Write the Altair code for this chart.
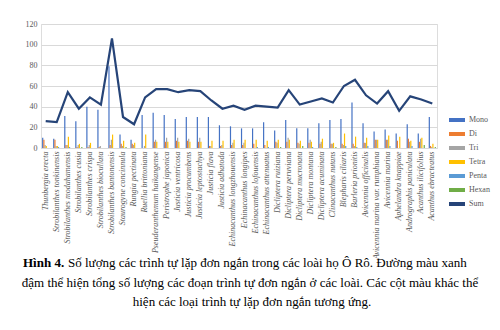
import altair as alt
import pandas as pd

species = [
    "Thunbergia erecta", "Strobilanthes tonkinensis", "Strobilanthes modahamensis",
    "Strobilanthes cusia", "Strobilanthes crispa", "Strobilanthes biocullata",
    "Strobilanthes bantonensis", "Staurogyne concinnula", "Rungia pectinata",
    "Ruellia brittoniana", "Pseuderanthemum haikangense", "Peristrophe japonica",
    "Justicia ventricosa", "Justicia procumbens", "Justicia leptostachya",
    "Justicia flava", "Justicia adhatoda", "Echinacanthus longzhouensis",
    "Echinacanthus longipes", "Echinacanthus lofouensis", "Echinacanthus attenuatus",
    "Dicliptera ruiziana", "Dicliptera peruviana", "Dicliptera mucronata",
    "Dicliptera montana", "Dicliptera acuminata", "Clinacanthus nutans",
    "Blepharis ciliaris", "Barleria prionitis", "Avicennia officinalis",
    "Avicennia marina var. rumphiana", "Avicennia marina", "Aphelandra knappiae",
    "Andrographis paniculata", "Acanthus ilicifolius", "Acanthus ebracteatus",
]
mono = [10, 9, 31, 26, 40, 37, 79, 13, 8, 32, 34, 32, 28, 30, 30, 30, 22, 21, 19, 19,
        25, 17, 27, 19, 19, 24, 27, 28, 44, 24, 16, 18, 14, 23, 14, 30]
di = [8, 8, 3, 1, 1, 1, 3, 4, 4, 0, 6, 6, 7, 7, 6, 2, 2, 3, 3, 4,
      3, 6, 6, 5, 5, 4, 4, 4, 4, 5, 8, 8, 7, 9, 6, 2]
tri = [3, 2, 3, 3, 3, 2, 8, 2, 3, 2, 8, 10, 10, 9, 10, 2, 3, 5, 5, 0,
       0, 5, 10, 4, 8, 6, 4, 3, 2, 5, 8, 8, 0, 6, 9, 1]
tetra = [2, 2, 11, 4, 5, 0, 13, 7, 5, 13, 6, 6, 6, 6, 6, 7, 7, 8, 8, 8,
         7, 8, 8, 7, 6, 9, 5, 14, 11, 10, 8, 12, 11, 7, 10, 4]
penta = [0, 1, 1, 0, 0, 0, 0, 0, 0, 0, 0, 0, 0, 0, 0, 0, 0, 0, 0, 1,
         1, 0, 0, 0, 1, 0, 0, 2, 1, 2, 0, 2, 0, 2, 0, 0]
hexan = [0, 0, 0, 1, 0, 0, 0, 1, 0, 0, 0, 0, 0, 0, 0, 0, 0, 0, 0, 0,
         0, 1, 0, 2, 0, 0, 1, 0, 0, 0, 0, 0, 0, 0, 3, 1]
total = [26, 25, 54, 38, 49, 42, 106, 30, 23, 49, 57, 57, 54, 56, 55, 46, 38, 41, 37, 41,
         40, 39, 56, 42, 45, 48, 44, 60, 66, 51, 43, 55, 36, 50, 47, 43]

series_names = ["Mono", "Di", "Tri", "Tetra", "Penta", "Hexan", "Sum"]
series_colors = ["#4472C4", "#ED7D31", "#A5A5A5", "#FFC000", "#5B9BD5", "#70AD47", "#264478"]
y_ticks = [0, 20, 40, 60, 80, 100, 120]

caption1_bold = "Hình 4."
caption1_rest = "Số lượng các trình tự lặp đơn ngắn trong các loài họ Ô Rô. Đường màu xanh"
caption2 = "đậm thể hiện tổng số lượng các đoạn trình tự đơn ngắn ở các loài. Các cột màu khác thể"
caption3 = "hiện các loại trình tự lặp đơn ngắn tương ứng."

rows = []
for name, vals in zip(series_names[:6], [mono, di, tri, tetra, penta, hexan]):
    for sp, v in zip(species, vals):
        rows.append({"species": sp, "series": name, "value": v})
bars_df = pd.DataFrame(rows)
line_df = pd.DataFrame({"species": species, "series": "Sum", "value": total})

SERIF = "Liberation Serif"
color_scale = alt.Scale(domain=series_names, range=series_colors)
x_enc = alt.X(
    "species:N", sort=species, title=None,
    scale=alt.Scale(paddingInner=0.35, paddingOuter=0.1),
    axis=alt.Axis(labelAngle=-90, labelFont=SERIF, labelFontStyle="italic",
                  labelFontSize=8, labelColor="#595959", labelPadding=3,
                  labelLimit=200, labelOverlap=False, ticks=False,
                  domainColor="#D9D9D9", grid=False),
)
y_enc = alt.Y(
    "value:Q", title=None,
    scale=alt.Scale(domain=[0, 120], nice=False),
    axis=alt.Axis(values=y_ticks, tickCount=7, labelFont=SERIF, labelOverlap=False,
                  labelFontSize=8, labelColor="#595959", labelPadding=4,
                  labelBound=False, labelFlush=False,
                  ticks=False, domain=False, gridColor="#D9D9D9", gridWidth=1),
)

bars = alt.Chart(bars_df).mark_bar().encode(
    x=x_enc,
    xOffset=alt.XOffset("series:N", sort=series_names[:6], scale=alt.Scale(paddingInner=0)),
    y=y_enc,
    color=alt.Color(
        "series:N", scale=color_scale, title=None,
        legend=alt.Legend(orient="none", legendX=408, legendY=88,
                          symbolType="M-1,-0.25H1V0.25H-1Z", symbolSize=256,
                          symbolStrokeWidth=0, labelFont=SERIF, labelFontSize=8,
                          labelColor="#595959", rowPadding=2, labelOffset=4),
    ),
)

line = alt.Chart(line_df).mark_line(strokeWidth=2.2).encode(
    x=x_enc,
    y=y_enc,
    color=alt.Color("series:N", scale=color_scale, legend=None),
)

def cap(text, x, y, align, weight="normal"):
    return alt.Chart(pd.DataFrame({"t": [text]})).mark_text(
        align=align, baseline="middle", font=SERIF, fontSize=13,
        fontWeight=weight, color="#000000",
    ).encode(x=alt.value(x), y=alt.value(y), text="t:N")

captions = (
    cap(caption1_bold, -18, 239, "left", "bold")
    + cap(caption1_rest, 27, 239, "left")
    + cap(caption2, 209, 258.5, "center")
    + cap(caption3, 211, 278, "center")
)

chart = alt.layer(bars, line, captions).properties(
    width=396, height=124,
    autosize=alt.AutoSizeParams(type="none"),
    padding={"left": 41, "top": 24, "right": 63, "bottom": 182},
).configure_view(stroke=None).configure(background="#FFFFFF")

chart.save("out.html", embed_options={"renderer": "svg", "actions": False})
